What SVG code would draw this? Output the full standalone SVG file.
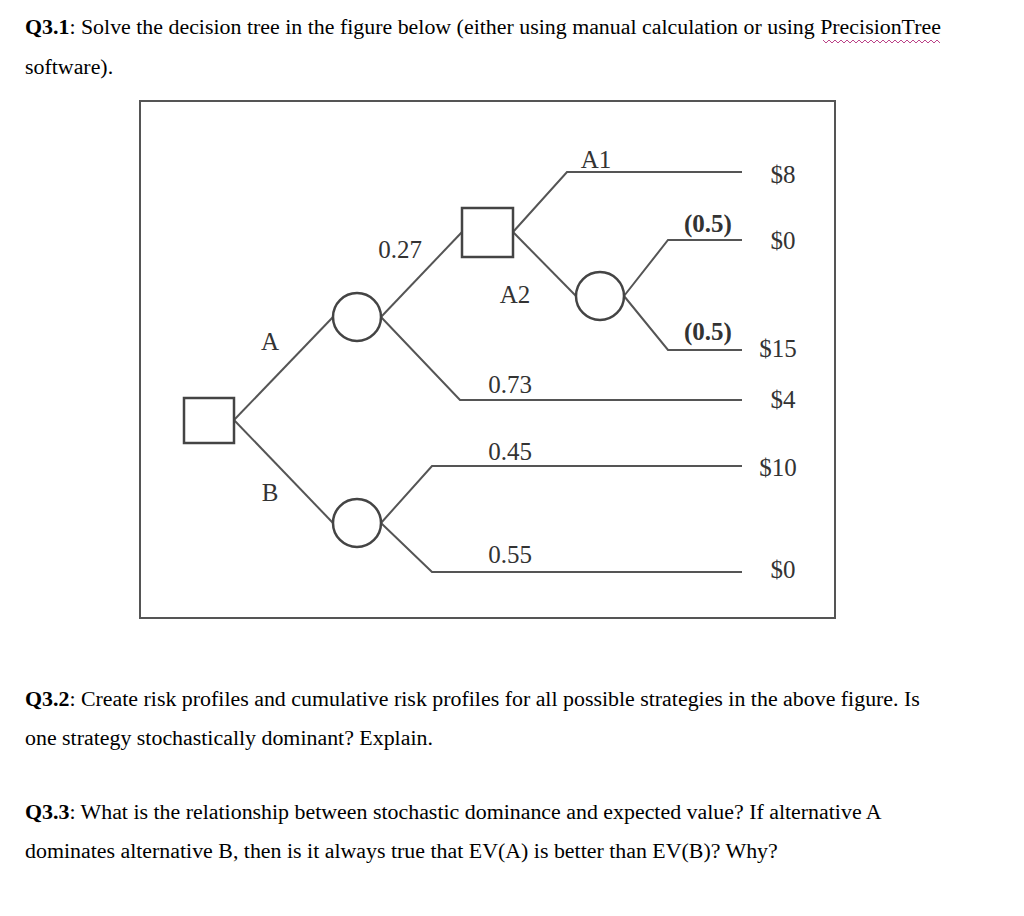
<svg xmlns="http://www.w3.org/2000/svg" width="1024" height="916" viewBox="0 0 1024 916">
<style>
.q{font-family:"Liberation Serif",serif;font-size:21.9px;fill:#000}
.t{font-family:"Liberation Serif",serif;font-size:25px;fill:#333}
.e{fill:none;stroke:#555;stroke-width:2}
.n{fill:#fff;stroke:#444;stroke-width:2.5}
</style>
<rect width="1024" height="916" fill="#fff"/>
<text class="q" x="25" y="34"><tspan font-weight="bold">Q3.1</tspan>: Solve the decision tree in the figure below (either using manual calculation or using PrecisionTree</text>
<path d="M823 40 l3 3 l3 -3 l3 3 l3 -3 l3 3 l3 -3 l3 3 l3 -3 l3 3 l3 -3 l3 3 l3 -3 l3 3 l3 -3 l3 3 l3 -3 l3 3 l3 -3 l3 3 l3 -3 l3 3 l3 -3 l3 3 l3 -3 l3 3 l3 -3 l3 3 l3 -3 l3 3 l3 -3 l3 3 l3 -3 l3 3 l3 -3 l3 3 l3 -3 l3 3 l3 -3 l3 3" fill="none" stroke="#b48" stroke-width="1"/>
<text class="q" x="25" y="74">software).</text>
<rect x="140" y="101" width="695" height="517" fill="none" stroke="#555" stroke-width="2"/>
<g id="connectors">
<path class="e" d="M234 420 L333 317"/>
<path class="e" d="M234 420 L333 523"/>
<path class="e" d="M381 317 L462 232"/>
<path class="e" d="M381 317 L460 400 L742 400"/>
<path class="e" d="M513 232 L567 172 L742 172"/>
<path class="e" d="M513 232 L576 296"/>
<path class="e" d="M624 296 L668 240 L742 240"/>
<path class="e" d="M624 296 L668 350 L742 350"/>
<path class="e" d="M381 523 L432 466 L742 466"/>
<path class="e" d="M381 523 L432 572 L742 572"/>
</g>
<g id="root"><rect class="n" x="184" y="398" width="50" height="45"/></g>
<g id="chanceA"><ellipse class="n" cx="357" cy="317" rx="24" ry="24"/></g>
<g id="chanceB"><ellipse class="n" cx="357" cy="523" rx="24" ry="24"/></g>
<g id="decisionA"><rect class="n" x="462" y="208" width="51" height="49"/></g>
<g id="chanceA2"><ellipse class="n" cx="600" cy="296" rx="24" ry="24"/></g>
<g id="labels">
<text class="t" x="596" y="168" text-anchor="middle">A1</text>
<text class="t" x="783" y="183" text-anchor="middle">$8</text>
<text class="t" x="708" y="232" text-anchor="middle" font-size="22" font-weight="bold">(0.5)</text>
<text class="t" x="783" y="249" text-anchor="middle">$0</text>
<text class="t" x="400" y="258" text-anchor="middle">0.27</text>
<text class="t" x="515" y="303" text-anchor="middle">A2</text>
<text class="t" x="270" y="350" text-anchor="middle">A</text>
<text class="t" x="708" y="340" text-anchor="middle" font-size="22" font-weight="bold">(0.5)</text>
<text class="t" x="778" y="357" text-anchor="middle">$15</text>
<text class="t" x="510" y="393" text-anchor="middle">0.73</text>
<text class="t" x="783" y="408" text-anchor="middle">$4</text>
<text class="t" x="510" y="460" text-anchor="middle">0.45</text>
<text class="t" x="778" y="476" text-anchor="middle">$10</text>
<text class="t" x="270" y="501" text-anchor="middle">B</text>
<text class="t" x="510" y="563" text-anchor="middle">0.55</text>
<text class="t" x="783" y="578" text-anchor="middle">$0</text>
</g>
<text class="q" x="25" y="706"><tspan font-weight="bold">Q3.2</tspan>: Create risk profiles and cumulative risk profiles for all possible strategies in the above figure. Is</text>
<text class="q" x="25" y="745">one strategy stochastically dominant? Explain.</text>
<text class="q" x="25" y="819"><tspan font-weight="bold">Q3.3</tspan>: What is the relationship between stochastic dominance and expected value? If alternative A</text>
<text class="q" x="25" y="858">dominates alternative B, then is it always true that EV(A) is better than EV(B)? Why?</text>
</svg>
